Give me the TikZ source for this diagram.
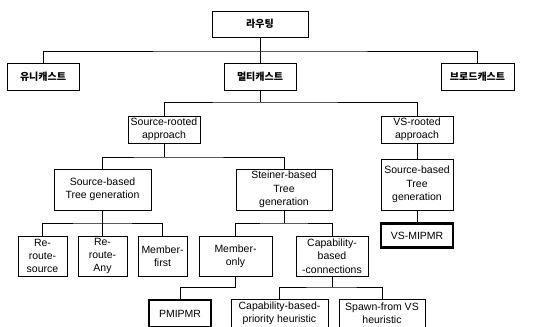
\documentclass[tikz,border=0pt]{standalone}
\usepackage{fontspec}
\setmainfont{Liberation Sans}
\newfontfamily\kr{Noto Sans CJK KR}
\usetikzlibrary{positioning}
\tikzset{>=stealth}
\tikzset{
  box/.style={draw, line width=0.8pt, align=center, inner sep=0pt,
    font=\fontsize{10.5}{13.3}\selectfont},
  krbox/.style={box, font=\kr\bfseries\fontsize{10}{12}\selectfont},
  selbox/.style={box, line width=2.4pt},
  link/.style={line width=0.8pt}
}

\begin{document}
\begin{tikzpicture}[x=1pt,y=-1pt]
  \useasboundingbox (0,0) rectangle (553,326);

  % Top levels
  \node[krbox, minimum width=96, minimum height=26] (root) at (260,24) {라우팅};
  \node[krbox, minimum width=72, minimum height=27] (uni) at (43,76.5) {유니캐스트};
  \node[krbox, minimum width=72, minimum height=27] (multi) at (260,76.5) {멀티캐스트};
  \node[krbox, minimum width=73, minimum height=27] (broad) at (477.5,76.5) {브로드캐스트};

  \node[box, minimum width=72, minimum height=27] (srcroot) at (164,129.5) {Source-rooted\\approach};
  \node[box, minimum width=72, minimum height=27] (vsroot) at (417,129.5) {VS-rooted\\approach};

  \node[box, minimum width=97, minimum height=41] (srctree) at (102.5,189.5) {Source-based\\Tree generation};
  \node[box, minimum width=96, minimum height=41] (steiner) at (284,189.5) {Steiner-based\\Tree\\generation};
  \node[box, minimum width=72, minimum height=51] (vstree) at (417,184.5) {Source-based\\Tree\\generation};
  \node[selbox, minimum width=72, minimum height=24] (vsmipmr) at (417,235.5) {VS-MIPMR};

  % Leaves of the source-based tree
  \node[box, minimum width=49, minimum height=40] (rrsrc) at (42.5,256) {Re-\\route-\\source};
  \node[box, minimum width=49, minimum height=40] (rrany) at (102.5,256) {Re-\\route-\\Any};
  \node[box, minimum width=49, minimum height=40] (mfirst) at (162.5,256) {Member-\\first};
  \node[box, minimum width=73, minimum height=40] (monly) at (235.5,256) {Member-\\only};
  \node[box, minimum width=72, minimum height=40] (capconn) at (332,256) {Capability-\\based\\-connections};

  \node[selbox, minimum width=62, minimum height=27] (pmipmr) at (180,313.5) {PMIPMR};
  \node[box, minimum width=97, minimum height=28] (cappri) at (279.5,313) {Capability-based-\\priority heuristic};
  \node[box, minimum width=86, minimum height=28] (spawn) at (382,313) {Spawn-from VS\\heuristic};

  % Bus points
  \coordinate (b1) at (260,51);
  \coordinate (b2) at (260,102);
  \coordinate (b3) at (164,157);
  \coordinate (b4) at (102.5,223);
  \coordinate (b5) at (284,223);
  \coordinate (b6) at (235.5,287);
  \coordinate (b7) at (332,287);

  % Connectors
  \draw[link] (root) -- (multi);
  \draw[link] (uni.north) |- (b1) -| (broad.north);
  \draw[link] (multi) -- (b2);
  \draw[link] (srcroot.north) |- (b2) -| (vsroot.north);
  \draw[link] (srcroot) -- (b3);
  \draw[link] (srctree.north) |- (b3) -| (steiner.north);
  \draw[link] (vsroot) -- (vstree);
  \draw[link] (vstree) -- (vsmipmr);
  \draw[link] (srctree) -- (rrany);
  \draw[link] (rrsrc.north) |- (b4) -| (mfirst.north);
  \draw[link] (steiner) -- (b5);
  \draw[link] (monly.north) |- (b5) -| (capconn.north);
  \draw[link] (monly) -- (b6);
  \draw[link] (b6) -| (pmipmr.north);
  \draw[link] (capconn) -- (b7);
  \draw[link] (cappri.north) |- (b7) -| (spawn.north);

\end{tikzpicture}
\end{document}
